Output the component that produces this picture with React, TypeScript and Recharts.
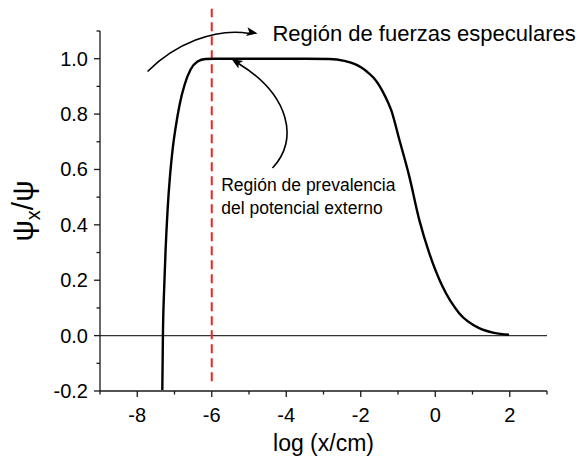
import React from "react";
import { LineChart, Line, XAxis, YAxis, ReferenceLine, ReferenceDot } from "recharts";

// curve: log(x/cm) vs psi_x/psi
const logX = [
  -7.327, -7.311, -7.279, -7.239, -7.185, -7.118, -7.051, -6.97, -6.863, -6.729, -6.568, -6.381,
  -6.166, -5.925, -4.5, -3.5, -2.842, -2.44, -2.172, -1.984, -1.823, -1.662, -1.501, -1.341,
  -1.18, -0.965, -0.697, -0.429, -0.161, 0.196, 0.642, 1.178, 1.58, 1.98,
];
const ratio = [
  -0.196, 0.0, 0.165, 0.31, 0.455, 0.581, 0.672, 0.751, 0.834, 0.906, 0.961, 0.99,
  0.999, 1.0, 1.0, 1.0, 0.999, 0.992, 0.981, 0.968, 0.952, 0.932, 0.903, 0.863,
  0.813, 0.708, 0.575, 0.418, 0.298, 0.177, 0.081, 0.027, 0.01, 0.003,
];

const xTicks = [-9, -8, -7, -6, -5, -4, -3, -2, -1, 0, 1, 2, 3];
const xMajor = [-8, -6, -4, -2, 0, 2];
const yTicks = [-0.2, -0.1, 0, 0.1, 0.2, 0.3, 0.4, 0.5, 0.6, 0.7, 0.8, 0.9, 1.0, 1.1];
const yMajor = ["-0.2", "0.0", "0.2", "0.4", "0.6", "0.8", "1.0"];

const markerX = -6;
const markerSpan = [-0.165, 1.18];

// annotation anchors (data coords)
const arrowTop = { x: -4.77, y: 1.091 };
const arrowLow = { x: -5.47, y: 0.999 };
const textTop = { x: -4.37, y: 1.063, lines: ["Región de fuerzas especulares"] };
const textLow = { x: -5.745, y: 0.521, lines: ["Región de prevalencia", "del potencial externo"] };

const data = logX.map((x, i) => ({ x, y: ratio[i] }));

const FONT = "Arial, 'Liberation Sans', sans-serif";
const INK = "#1a1a1a";

const XTick = (props: any) => {
  const { x, y, payload } = props;
  const v = payload.value;
  const major = xMajor.includes(v);
  return (
    <g>
      <line x1={x} x2={x} y1={y} y2={y + (major ? 6 : 3.5)} stroke={INK} strokeWidth={1.3} />
      {major && (
        <text x={x} y={y + 31} textAnchor="middle" fontSize={20} fontFamily={FONT} fill="#000">
          {v}
        </text>
      )}
    </g>
  );
};

const YTick = (props: any) => {
  const { x, y, payload } = props;
  const label = Number(payload.value).toFixed(1);
  const major = yMajor.includes(label);
  return (
    <g>
      <line x1={x} x2={x - (major ? 6 : 3.5)} y1={y} y2={y} stroke={INK} strokeWidth={1.3} />
      {major && (
        <text x={x - 12} y={y + 7} textAnchor="end" fontSize={20} fontFamily={FONT} fill="#000">
          {label}
        </text>
      )}
    </g>
  );
};

const Head = ({ angle }: { angle: number }) => (
  <path d="M0,0 L-11,-4.5 L-8.5,0 L-11,4.5 Z" fill="#000" transform={`rotate(${angle})`} />
);

const TopArrow = (props: any) => {
  const { cx, cy } = props;
  return (
    <g transform={`translate(${cx},${cy})`}>
      <path d="M-110,38 C-83,11 -43,-6 -8,0" fill="none" stroke="#000" strokeWidth={1.6} />
      <Head angle={10} />
    </g>
  );
};

const LowArrow = (props: any) => {
  const { cx, cy } = props;
  // tip at (0,0), curve comes up from below right
  return (
    <g transform={`translate(${cx},${cy})`}>
      <path d="M41,109 C68,81 58,36 7,4.5" fill="none" stroke="#000" strokeWidth={1.6} />
      <Head angle={212} />
    </g>
  );
};

const makeText = (lines: string[], size: number, gap: number) => (props: any) => {
  const { cx, cy } = props;
  return (
    <text x={cx} y={cy} fontSize={size} fontFamily={FONT} fill="#000">
      {lines.map((l, i) => (
        <tspan key={i} x={cx} dy={i === 0 ? 0 : gap}>
          {l}
        </tspan>
      ))}
    </text>
  );
};

const YLabel = () => (
  <text
    transform="translate(33,211) rotate(-90)"
    textAnchor="middle"
    fontSize={30}
    fontFamily={FONT}
    fill="#000"
  >
    ψ<tspan fontSize={20} dy={7}>x</tspan>
    <tspan dy={-7}>/ψ</tspan>
  </text>
);

export default function App() {
  return (
    <div style={{ position: "absolute", left: 0, top: 0, background: "#fff" }}>
      <LineChart width={579} height={460} data={data} margin={{ top: 31, right: 32, left: 0, bottom: 0 }}>
        <XAxis
          type="number"
          dataKey="x"
          domain={[-9, 3]}
          ticks={xTicks}
          interval={0}
          tick={<XTick />}
          tickLine={false}
          tickSize={0}
          tickMargin={0}
          axisLine={{ stroke: INK, strokeWidth: 1.3 }}
          height={69}
          allowDataOverflow
          label={{
            value: "log (x/cm)",
            position: "insideBottom",
            offset: 9,
            fontSize: 23,
            fontFamily: FONT,
            fill: "#000",
          }}
        />
        <YAxis
          type="number"
          domain={[-0.2, 1.1]}
          ticks={yTicks}
          interval={0}
          tick={<YTick />}
          tickLine={false}
          tickSize={0}
          tickMargin={0}
          axisLine={{ stroke: INK, strokeWidth: 1.3 }}
          width={100}
          allowDataOverflow
          label={{ content: <YLabel /> }}
        />
        <ReferenceLine y={0} stroke="#333" strokeWidth={1.3} />
        <ReferenceLine
          segment={[
            { x: markerX, y: markerSpan[0] },
            { x: markerX, y: markerSpan[1] },
          ]}
          stroke="#ee2222"
          strokeWidth={2}
          strokeDasharray="9 5"
          ifOverflow="visible"
        />
        <Line
          type="monotoneX"
          dataKey="y"
          stroke="#000"
          strokeWidth={2.4}
          dot={false}
          isAnimationActive={false}
        />
        <ReferenceDot x={arrowTop.x} y={arrowTop.y} r={0} ifOverflow="visible" shape={<TopArrow />} />
        <ReferenceDot x={arrowLow.x} y={arrowLow.y} r={0} ifOverflow="visible" shape={<LowArrow />} />
        <ReferenceDot
          x={textTop.x}
          y={textTop.y}
          r={0}
          ifOverflow="visible"
          shape={makeText(textTop.lines, 22, 0)}
        />
        <ReferenceDot
          x={textLow.x}
          y={textLow.y}
          r={0}
          ifOverflow="visible"
          shape={makeText(textLow.lines, 17.5, 23)}
        />
      </LineChart>
    </div>
  );
}
